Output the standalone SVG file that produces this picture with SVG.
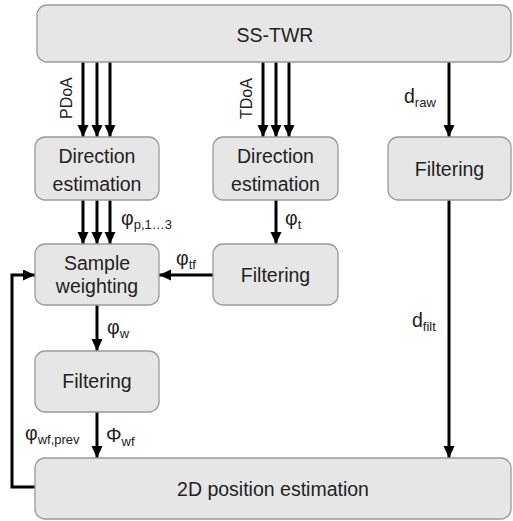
<svg xmlns="http://www.w3.org/2000/svg" width="513" height="521" viewBox="0 0 513 521">
<defs>
<marker id="ah" markerUnits="userSpaceOnUse" markerWidth="12" markerHeight="14" refX="12" refY="5.5" orient="auto">
<path d="M0,0 L12,5.5 L0,11 Z" fill="#000"/>
</marker>
<style>
.box{fill:#e6e6e6;stroke:#9a9a9a;stroke-width:1.3}
.t{font-family:"Liberation Sans",Arial,sans-serif;font-size:19.5px;fill:#222;text-anchor:middle}
.l{font-family:"Liberation Sans",Arial,sans-serif;font-size:19.5px;fill:#222}
.r{font-family:"Liberation Sans",Arial,sans-serif;font-size:16px;fill:#222}
.s{font-size:13px}
.c{fill:none;stroke:#000;stroke-width:3}
</style>
</defs>
<g id="connectors">
<path class="c" d="M83,62 V137" marker-end="url(#ah)"/>
<path class="c" d="M97,62 V137" marker-end="url(#ah)"/>
<path class="c" d="M110,62 V137" marker-end="url(#ah)"/>
<path class="c" d="M263,62 V137" marker-end="url(#ah)"/>
<path class="c" d="M276,62 V137" marker-end="url(#ah)"/>
<path class="c" d="M289,62 V137" marker-end="url(#ah)"/>
<path class="c" d="M449,62 V137" marker-end="url(#ah)"/>
<path class="c" d="M83,200 V244" marker-end="url(#ah)"/>
<path class="c" d="M97,200 V244" marker-end="url(#ah)"/>
<path class="c" d="M110,200 V244" marker-end="url(#ah)"/>
<path class="c" d="M276,200 V244" marker-end="url(#ah)"/>
<path class="c" d="M213,275 H159" marker-end="url(#ah)"/>
<path class="c" d="M97,305 V351" marker-end="url(#ah)"/>
<path class="c" d="M97,412 V458" marker-end="url(#ah)"/>
<path class="c" d="M449,200 V458" marker-end="url(#ah)"/>
<path class="c" d="M35,487 H12 V275 H35" marker-end="url(#ah)"/>
<text class="r" transform="translate(72,119) rotate(-90)">PDoA</text>
<text class="r" transform="translate(251.5,119) rotate(-90)">TDoA</text>
<text class="l" x="404" y="103">d<tspan class="s" dy="4">raw</tspan></text>
<text class="l" x="121" y="225">φ<tspan class="s" dy="4">p,1…3</tspan></text>
<text class="l" x="285" y="225">φ<tspan class="s" dy="4">t</tspan></text>
<text class="l" x="176" y="265">φ<tspan class="s" dy="4">tf</tspan></text>
<text class="l" x="107" y="334">φ<tspan class="s" dy="4">w</tspan></text>
<text class="l" x="106" y="442">Φ<tspan class="s" dy="4">wf</tspan></text>
<text class="l" x="25" y="440">φ<tspan class="s" dy="4">wf,prev</tspan></text>
<text class="l" x="412" y="327">d<tspan class="s" dy="4">filt</tspan></text>
</g>
<g id="sstwr"><rect class="box" x="37" y="5" width="474" height="57" rx="10"/><text class="t" x="275" y="42">SS-TWR</text></g>
<g id="dir1"><rect class="box" x="35" y="137" width="124" height="63" rx="10"/><text class="t" x="97" y="163">Direction</text><text class="t" x="97" y="191">estimation</text></g>
<g id="dir2"><rect class="box" x="213" y="137" width="125" height="63" rx="10"/><text class="t" x="275.5" y="163">Direction</text><text class="t" x="275.5" y="191">estimation</text></g>
<g id="filt-d"><rect class="box" x="388" y="137" width="123" height="63" rx="10"/><text class="t" x="449.5" y="176">Filtering</text></g>
<g id="weight"><rect class="box" x="35" y="244" width="124" height="61" rx="10"/><text class="t" x="97" y="270">Sample</text><text class="t" x="97" y="293">weighting</text></g>
<g id="filt-t"><rect class="box" x="213" y="244" width="125" height="61" rx="10"/><text class="t" x="275.5" y="282">Filtering</text></g>
<g id="filt-w"><rect class="box" x="35" y="351" width="124" height="61" rx="10"/><text class="t" x="97" y="388">Filtering</text></g>
<g id="pos2d"><rect class="box" x="35" y="458" width="476" height="61" rx="10"/><text class="t" x="273" y="496">2D position estimation</text></g>
</svg>
